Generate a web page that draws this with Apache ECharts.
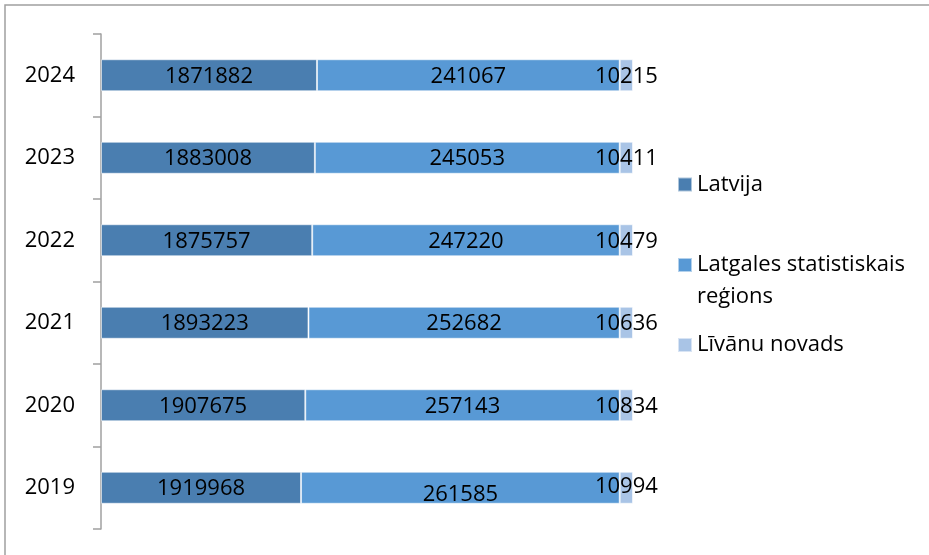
<!DOCTYPE html>
<html>
<head>
<meta charset="utf-8">
<script src="https://cdn.jsdelivr.net/npm/echarts@6/dist/echarts.min.js"></script>
<style>
html,body{margin:0;padding:0;background:#fff;}
#chart{width:929px;height:555px;}
</style>
</head>
<body>
<div id="chart"></div>
<script>
// Categories (bottom to top)
const years = ['2019', '2020', '2021', '2022', '2023', '2024'];
// Label values shown on the bars
const latvijaValues = [1919968, 1907675, 1893223, 1875757, 1883008, 1871882];
const latgaleValues = [261585, 257143, 252682, 247220, 245053, 241067];
const livanuValues = [10994, 10834, 10636, 10479, 10411, 10215];
// Segment lengths (share of full bar, %)
const latvijaShare = [37.6, 38.4, 39.0, 39.7, 40.2, 40.6];
const latgaleShare = [59.9, 59.1, 58.5, 57.8, 57.3, 56.9];
const livanuShare = [2.5, 2.5, 2.5, 2.5, 2.5, 2.5];
// Series names
const seriesNames = ['Latvija', 'Latgales statistiskais reģions', 'Līvānu novads'];

const FONT = '"Open Sans"';
const FS = 22;
const colors = ['#4a7eb0', '#5899d5', '#a9c4e6'];

const chart = echarts.init(document.getElementById('chart'), null, {renderer: 'canvas'});

function makeData(shares, offsets) {
  return shares.map((v, i) => {
    const o = offsets && offsets[i];
    return o ? {value: v, label: {offset: o}} : v;
  });
}

function makeSeries(idx, shares, values, offsets) {
  return {
    name: seriesNames[idx],
    type: 'bar',
    stack: 'total',
    barWidth: 32,
    data: makeData(shares, offsets),
    itemStyle: {color: colors[idx], borderColor: 'rgba(255,255,255,0.55)', borderWidth: 1},
    label: {
      show: true,
      position: 'inside',
      offset: [0, 1],
      color: '#000',
      fontFamily: FONT,
      fontSize: FS,
      formatter: p => String(values[p.dataIndex])
    },
    emphasis: {disabled: true}
  };
}

const legendText = {color: '#000', fontFamily: FONT, fontSize: FS, lineHeight: 32};

const option = {
  animation: false,
  backgroundColor: '#fff',
  grid: {left: 101, top: 34, width: 532, height: 495, containLabel: false},
  xAxis: {type: 'value', min: 0, max: 100, show: false},
  yAxis: {
    type: 'category',
    data: years,
    axisLine: {show: true, lineStyle: {color: '#a0a0a0', width: 1.5}},
    axisTick: {show: true, length: 8, lineStyle: {color: '#a0a0a0', width: 1.5}},
    axisLabel: {color: '#000', fontFamily: FONT, fontSize: FS, margin: 26},
    splitLine: {show: false}
  },
  legend: [
    {
      data: [seriesNames[0]], orient: 'vertical', left: 677, top: 168.5, padding: 0,
      icon: 'rect', itemWidth: 14, itemHeight: 14, textStyle: legendText
    },
    {
      data: [seriesNames[1]], orient: 'vertical', left: 677, top: 217, padding: 0,
      icon: 'rect', itemWidth: 14, itemHeight: 14,
      formatter: () => ' \nLatgales statistiskais\nreģions',
      textStyle: legendText
    },
    {
      data: [seriesNames[2]], orient: 'vertical', left: 677, top: 329, padding: 0,
      icon: 'rect', itemWidth: 14, itemHeight: 14, textStyle: legendText
    }
  ],
  series: [
    makeSeries(0, latvijaShare, latvijaValues),
    makeSeries(1, latgaleShare, latgaleValues, [[0, 7], null, null, null, null, null]),
    makeSeries(2, livanuShare, livanuValues, [[0, -1], null, null, null, null, null])
  ],
  graphic: [{
    type: 'rect',
    shape: {x: 5, y: 5, width: 940, height: 570},
    style: {fill: null, stroke: '#a0a0a0', lineWidth: 1.5},
    silent: true
  }]
};

chart.setOption(option);
</script>
</body>
</html>
